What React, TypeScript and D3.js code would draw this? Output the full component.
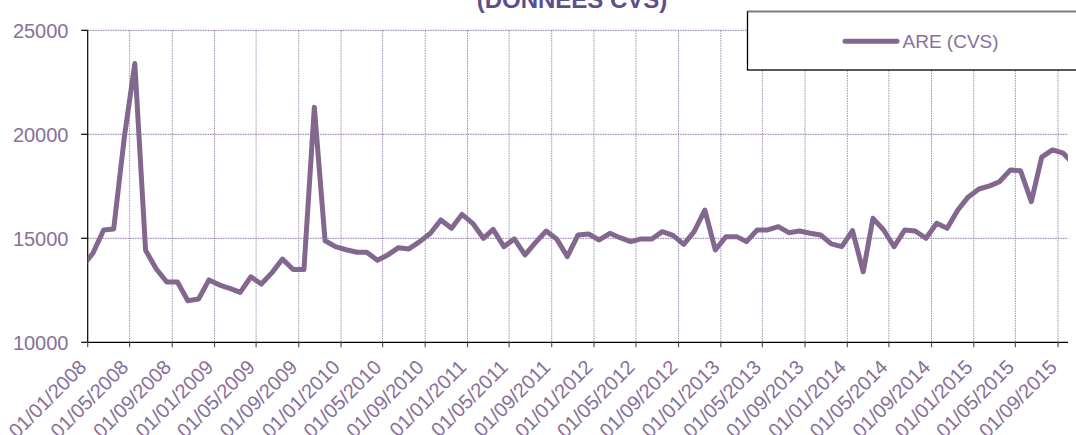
import React, { useEffect, useRef } from 'react';
import * as d3 from 'd3';

// Monthly ARE (CVS) values
const values2007 = [13640]; // December only, clipped by the plot edge
const values2008 = [14280, 15400, 15450, 19900, 23400, 14430, 13550, 12900, 12900, 12000, 12080, 13000];
const values2009 = [12750, 12580, 12400, 13150, 12800, 13350, 14000, 13500, 13500, 21300, 14880, 14600];
const values2010 = [14450, 14330, 14330, 13950, 14200, 14550, 14490, 14840, 15240, 15880, 15480, 16150];
const values2011 = [15720, 15000, 15430, 14600, 14970, 14200, 14790, 15350, 14950, 14120, 15160, 15210];
const values2012 = [14920, 15240, 15030, 14840, 14970, 14970, 15320, 15140, 14710, 15320, 16360, 14440];
const values2013 = [15080, 15080, 14840, 15400, 15400, 15560, 15270, 15350, 15240, 15160, 14730, 14600];
const values2014 = [15370, 13390, 15960, 15400, 14600, 15400, 15350, 15000, 15720, 15480, 16360, 16990];
const values2015 = [17370, 17520, 17720, 18280, 18250, 16760, 18900, 19250, 19090, 18580];

const yTicks = [10000, 15000, 20000, 25000];
const seriesName = 'ARE (CVS)';
const title = '(DONNEES CVS)';

const App = () => {
  const svgRef = useRef<SVGSVGElement>(null);

  useEffect(() => {
    const svg = d3.select(svgRef.current);
    svg.selectAll('*').remove();

    const W = 1076;
    const H = 435;
    const left = 87.7;
    const right = 1068;
    const top = 30.3;
    const bottom = 342.3;
    const font = '"Liberation Sans", Arial, sans-serif';
    const lineColor = '#82688f';
    const textColor = '#87709a';

    // points sit mid-month (dates on the 16th)
    const data: { date: Date; value: number }[] = [];
    data.push({ date: new Date(2007, 11, 16), value: values2007[0] });
    [values2008, values2009, values2010, values2011, values2012, values2013, values2014, values2015].forEach((arr, yi) => {
      arr.forEach((v, m) => data.push({ date: new Date(2008 + yi, m, 16), value: v }));
    });

    const x = d3.scaleTime()
      .domain([new Date(2008, 0, 1), new Date(2015, 8, 1)])
      .range([left, 1058]);
    const y = d3.scaleLinear().domain([10000, 25000]).range([bottom, top]);

    const tickDates = d3.timeMonth.every(4)!.range(new Date(2008, 0, 1), new Date(2015, 9, 1));
    const fmt = d3.timeFormat('%d/%m/%Y');

    svg.append('defs').append('clipPath').attr('id', 'plotClip')
      .append('rect').attr('x', left).attr('y', 0).attr('width', right - left).attr('height', H);

    // vertical grid
    svg.append('g').selectAll('line').data(tickDates.slice(1)).enter().append('line')
      .attr('x1', d => x(d)).attr('x2', d => x(d))
      .attr('y1', top).attr('y2', bottom)
      .attr('stroke', '#a08fb3').attr('stroke-width', 1).attr('stroke-dasharray', '1.5,1');

    // horizontal grid
    svg.append('g').selectAll('line').data(yTicks.slice(1)).enter().append('line')
      .attr('x1', left).attr('x2', right)
      .attr('y1', d => y(d)).attr('y2', d => y(d))
      .attr('stroke', '#8a6d9c').attr('stroke-width', 1).attr('stroke-dasharray', '1.5,1');

    // axes
    svg.append('line').attr('x1', left).attr('x2', left).attr('y1', top).attr('y2', bottom)
      .attr('stroke', '#000').attr('stroke-width', 1.2);
    svg.append('line').attr('x1', left).attr('x2', right).attr('y1', bottom).attr('y2', bottom)
      .attr('stroke', '#000').attr('stroke-width', 1.2);

    // y ticks + labels
    const yg = svg.append('g');
    yg.selectAll('line').data(yTicks).enter().append('line')
      .attr('x1', left - 6.5).attr('x2', left)
      .attr('y1', d => y(d)).attr('y2', d => y(d))
      .attr('stroke', '#000').attr('stroke-width', 1.2);
    yg.selectAll('text').data(yTicks).enter().append('text')
      .attr('x', 68.5).attr('y', d => y(d)).attr('dy', '0.36em')
      .attr('text-anchor', 'end')
      .attr('font-family', font).attr('font-size', 20)
      .attr('fill', textColor)
      .text(d => d);

    // x ticks + labels
    const xg = svg.append('g');
    xg.selectAll('line').data(tickDates).enter().append('line')
      .attr('x1', d => x(d)).attr('x2', d => x(d))
      .attr('y1', bottom).attr('y2', bottom + 5)
      .attr('stroke', '#555').attr('stroke-width', 1.2);
    xg.selectAll('text').data(tickDates).enter().append('text')
      .attr('transform', d => `translate(${x(d)},${bottom + 26}) rotate(-45)`)
      .attr('text-anchor', 'end')
      .attr('font-family', font).attr('font-size', 20)
      .attr('fill', textColor)
      .text(d => fmt(d));

    // series line
    const line = d3.line<{ date: Date; value: number }>()
      .x(d => x(d.date))
      .y(d => y(d.value));
    svg.append('path')
      .datum(data)
      .attr('clip-path', 'url(#plotClip)')
      .attr('d', line)
      .attr('fill', 'none')
      .attr('stroke', lineColor)
      .attr('stroke-width', 5)
      .attr('stroke-linejoin', 'round');

    // title (cut at top, as in the source)
    svg.append('text')
      .attr('x', 572).attr('y', 8)
      .attr('text-anchor', 'middle')
      .attr('font-family', font).attr('font-size', 24).attr('font-weight', 'bold')
      .attr('fill', '#5b4f8e')
      .text(title);

    // legend
    const lg = svg.append('g');
    lg.append('rect')
      .attr('x', 747.5).attr('y', 11.5).attr('width', 400).attr('height', 58.5)
      .attr('fill', '#fff').attr('stroke', '#000').attr('stroke-width', 1.3);
    lg.append('line')
      .attr('x1', 747.5).attr('x2', W).attr('y1', 11.5).attr('y2', 11.5)
      .attr('stroke', '#777').attr('stroke-width', 1.6);
    lg.append('line')
      .attr('x1', 845).attr('x2', 897).attr('y1', 41.3).attr('y2', 41.3)
      .attr('stroke', lineColor).attr('stroke-width', 5).attr('stroke-linecap', 'round');
    lg.append('text')
      .attr('x', 902.5).attr('y', 41.3).attr('dy', '0.36em')
      .attr('font-family', font).attr('font-size', 19)
      .attr('fill', textColor)
      .text(seriesName);
  }, []);

  return (
    <svg ref={svgRef} width={1076} height={435}
      style={{ position: 'absolute', left: 0, top: 0, background: '#fff' }} />
  );
};

export default App;
